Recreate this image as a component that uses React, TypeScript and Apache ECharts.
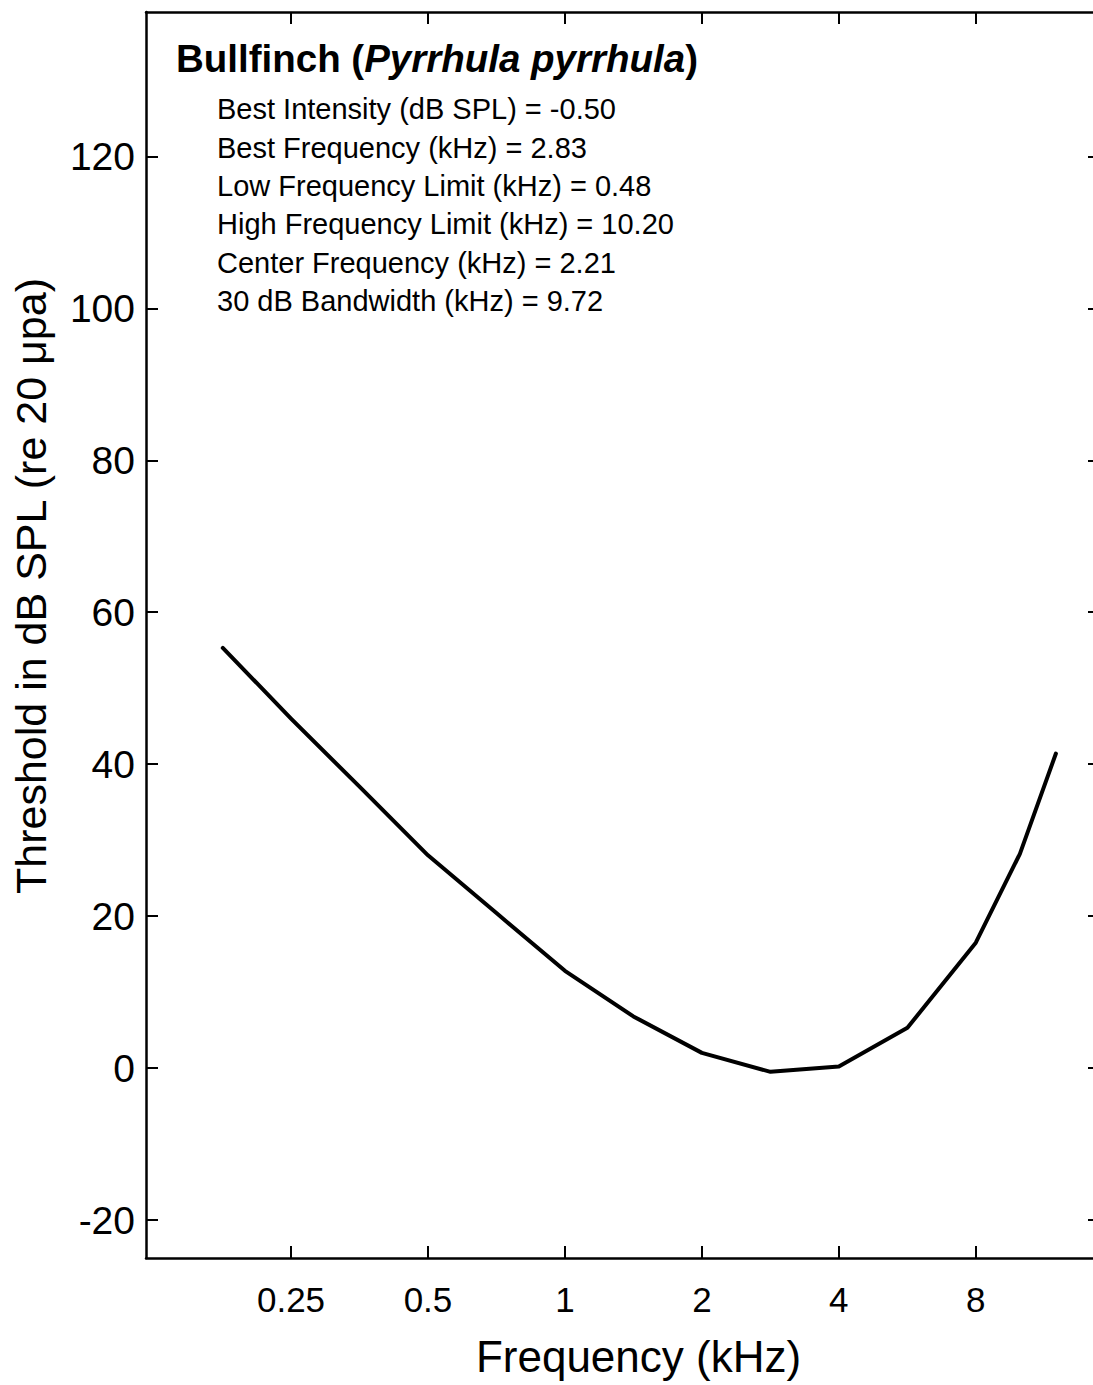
import React, { useEffect, useRef } from "react";
import * as echarts from "echarts";

// Audiogram of the Bullfinch (threshold vs. frequency)
const freqKHz = [0.177, 0.25, 0.354, 0.5, 0.707, 1, 1.414, 2, 2.83, 4, 5.66, 8, 10, 12];
const thresholdDb = [55.3, 46.0, 37.0, 28.0, 20.4, 12.8, 6.8, 2.0, -0.5, 0.2, 5.3, 16.5, 28.2, 41.4];

const xTickValues = [0.25, 0.5, 1, 2, 4, 8];
const yTickValues = [-20, 0, 20, 40, 60, 80, 100, 120];

const speciesCommon = "Bullfinch";
const speciesLatin = "Pyrrhula pyrrhula";
const statLabels = [
  "Best Intensity (dB SPL)",
  "Best Frequency (kHz)",
  "Low Frequency Limit (kHz)",
  "High Frequency Limit (kHz)",
  "Center Frequency (kHz)",
  "30 dB Bandwidth (kHz)",
];
const statValues = ["-0.50", "2.83", "0.48", "10.20", "2.21", "9.72"];

const FONT = "'Liberation Sans', Arial, Helvetica, sans-serif";

export default function App() {
  const ref = useRef<HTMLDivElement>(null);

  useEffect(() => {
    document.body.style.margin = "0";
    document.body.style.overflow = "hidden";
    if (!ref.current) return;
    const chart = echarts.init(ref.current, undefined, { renderer: "svg" });

    const axisLine = { show: true, onZero: false, lineStyle: { color: "#000", width: 2.5 } };
    const tick = (vals: number[]) => ({
      show: true,
      inside: true,
      length: 12,
      lineStyle: { color: "#000", width: 2 },
      customValues: vals,
    });

    const data = freqKHz.map((f, i) => [f, thresholdDb[i]]);

    chart.setOption({
      animation: false,
      backgroundColor: "#fff",
      textStyle: { fontFamily: FONT },
      title: [
        {
          text: `{b|${speciesCommon} (}{i|${speciesLatin}}{b|)}`,
          left: 176,
          top: 37,
          padding: 0,
          textStyle: {
            rich: {
              b: { fontFamily: FONT, fontSize: 38.5, fontWeight: "bold", color: "#000", lineHeight: 42 },
              i: { fontFamily: FONT, fontSize: 38.5, fontWeight: "bold", fontStyle: "italic", color: "#000", lineHeight: 42 },
            },
          },
        },
        {
          text: statLabels.map((l, i) => `${l} = ${statValues[i]}`).join("\n"),
          left: 217,
          top: 90,
          padding: 0,
          textStyle: { fontFamily: FONT, fontSize: 29, fontWeight: "normal", color: "#000", lineHeight: 38.4 },
        },
      ],
      grid: { left: 146, right: 1, top: 12, bottom: 127, containLabel: false },
      xAxis: [
        {
          type: "log",
          logBase: 2,
          min: 0.12,
          max: 15,
          position: "bottom",
          axisLine,
          axisTick: tick(xTickValues),
          minorTick: { show: false },
          splitLine: { show: false },
          axisLabel: {
            customValues: xTickValues,
            formatter: (v: number) => String(v),
            fontFamily: FONT,
            fontSize: 35,
            color: "#000",
            margin: 24,
          },
          name: "Frequency (kHz)",
          nameLocation: "middle",
          nameGap: 76,
          nameTextStyle: { fontFamily: FONT, fontSize: 44, color: "#000", padding: [0, 0, 0, 31] },
        },
        {
          type: "log",
          logBase: 2,
          min: 0.12,
          max: 15,
          position: "top",
          axisLine,
          axisTick: tick(xTickValues),
          minorTick: { show: false },
          splitLine: { show: false },
          axisLabel: { show: false },
        },
      ],
      yAxis: [
        {
          type: "value",
          min: -25,
          max: 139,
          position: "left",
          axisLine,
          axisTick: tick(yTickValues),
          splitLine: { show: false },
          axisLabel: {
            customValues: yTickValues,
            fontFamily: FONT,
            fontSize: 39,
            color: "#000",
            margin: 11,
          },
          name: "Threshold in dB SPL (re 20 \u03bcpa)",
          nameLocation: "middle",
          nameGap: 94,
          nameTextStyle: { fontFamily: FONT, fontSize: 43, color: "#000", padding: [0, 0, 0, 98] },
        },
        {
          type: "value",
          min: -25,
          max: 139,
          position: "right",
          axisLine,
          axisTick: tick(yTickValues),
          splitLine: { show: false },
          axisLabel: { show: false },
        },
      ],
      series: [
        {
          type: "line",
          data,
          xAxisIndex: 0,
          yAxisIndex: 0,
          showSymbol: false,
          symbol: "none",
          lineStyle: { color: "#000", width: 4, join: "round", cap: "round" },
          clip: true,
        },
      ],
    });

    return () => chart.dispose();
  }, []);

  return (
    <div style={{ width: 1093, height: 1385, overflow: "hidden" }}>
      <div ref={ref} style={{ width: 1101, height: 1385 }} />
    </div>
  );
}
